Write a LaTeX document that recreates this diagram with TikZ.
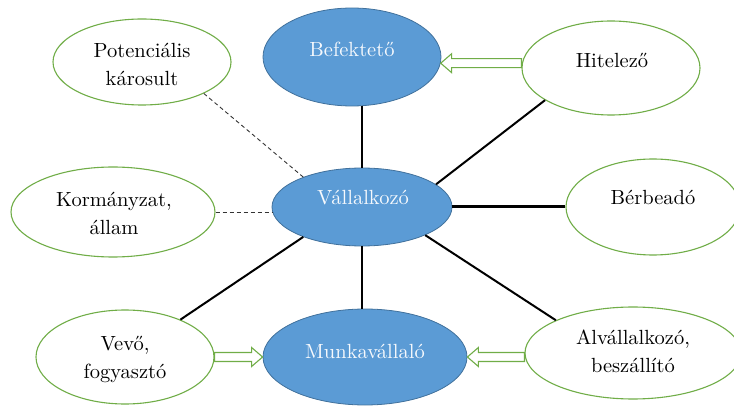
\documentclass[tikz,border=0pt]{standalone}
\usepackage{fontspec}
\setmainfont{lmroman10-regular.otf}
\usetikzlibrary{shapes.geometric,calc}
\definecolor{bluefill}{HTML}{5B9BD5}
\definecolor{blueline}{HTML}{41719C}
\definecolor{greenline}{HTML}{70AD47}
\definecolor{txtwhite}{HTML}{F6F9FD}
\tikzset{
  blueell/.style={ellipse, draw=blueline, line width=0.8pt, fill=bluefill, inner sep=0pt},
  greenell/.style={ellipse, draw=greenline, line width=1.1pt, fill=white, inner sep=0pt},
  lbl/.style={anchor=base, align=center, inner sep=0pt, font=\fontsize{20.5}{28}\selectfont, text=black},
  wlbl/.style={lbl, text=txtwhite},
  link/.style={draw=black, line width=2pt},
  thicklink/.style={draw=black, line width=3pt},
  dlink/.style={draw=black!80, line width=0.9pt, dash pattern=on 4pt off 3pt},
  hollow/.style={draw=greenline, line width=1.1pt, fill=white, line join=miter},
}
\begin{document}
\begin{tikzpicture}[x=1pt,y=-1pt]
\useasboundingbox (0,0) rectangle (734,406);
% ellipses
\node[blueell, minimum width=178pt, minimum height=98pt] (bef) at (352,57) {};
\node[blueell, minimum width=180pt, minimum height=78pt] (val) at (362,207) {};
\node[blueell, minimum width=204pt, minimum height=96pt] (mun) at (365,357) {};
\node[greenell, minimum width=178pt, minimum height=94pt] (hit) at (611,68) {};
\node[greenell, minimum width=178pt, minimum height=86pt] (pot) at (142,62) {};
\node[greenell, minimum width=204pt, minimum height=90pt] (kor) at (113,212) {};
\node[greenell, minimum width=174pt, minimum height=96pt] (ber) at (653,207) {};
\node[greenell, minimum width=178pt, minimum height=94pt] (vev) at (125,357) {};
\node[greenell, minimum width=216pt, minimum height=92pt] (alv) at (633,353) {};
% labels
\node[wlbl] (tbef) at (352,57) {Befektető};
\node[wlbl] (tval) at (363,205) {Vállalkozó};
\node[wlbl] (tmun) at (365,358) {Munkavállaló};
\node[lbl] (thit) at (612,68) {Hitelező};
\node[lbl] (tpot) at (142,86) {Potenciális\\károsult};
\node[lbl] (tkor) at (114,235) {Kormányzat,\\állam};
\node[lbl] (tber) at (653,205) {Bérbeadó};
\node[lbl] (tvev) at (125,378) {Vevő,\\fogyasztó};
\node[lbl] (talv) at (633,372) {Alvállalkozó,\\beszállító};
% solid connectors
\draw[link] (val.north) -- (bef.south -| val.north);
\draw[link] (val.south) -- (val.south |- mun.north);
\draw[link] (val.17) -- (hit.206);
\draw[thicklink] (val.east) -- (ber.west);
\draw[link] (val.207) -- (vev.34);
\draw[link] (val.336) -- (alv.157);
% dashed connectors
\draw[dlink] (pot.333) -- (val.153);
\draw[dlink] (kor.east) -- (kor.east -| val.west);
% hollow block arrows
\coordinate (t1) at (bef.-4);
\draw[hollow] (t1) -- ++(11,-9.5) -- ++(0,5) -- ($(t1 -| hit.west)+(0,-4.5)$)
  -- ($(t1 -| hit.west)+(0,4.5)$) -- ($(t1)+(11,4.5)$) -- ++(0,5) -- cycle;
\coordinate (t2) at (mun.west);
\draw[hollow] (t2) -- ++(-11,-9.5) -- ++(0,5) -- ($(t2 -| vev.east)+(0,-4.5)$)
  -- ($(t2 -| vev.east)+(0,4.5)$) -- ($(t2)+(-11,4.5)$) -- ++(0,5) -- cycle;
\coordinate (t3) at (mun.east);
\draw[hollow] (t3) -- ++(11,-9.5) -- ++(0,5) -- ($(t3 -| alv.west)+(0,-4.5)$)
  -- ($(t3 -| alv.west)+(0,4.5)$) -- ($(t3)+(11,4.5)$) -- ++(0,5) -- cycle;
\end{tikzpicture}
\end{document}
